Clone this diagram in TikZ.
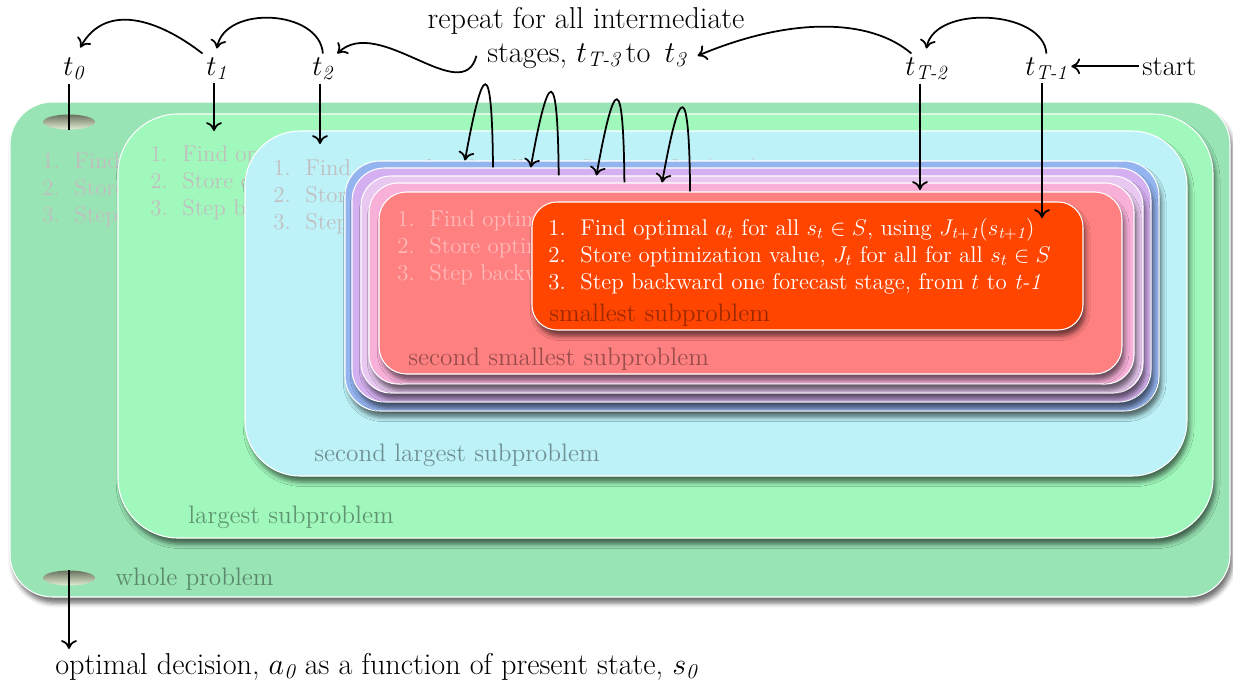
\RequirePackage{fix-cm}
\documentclass[tikz,border=0pt]{standalone}
\usepackage{amsmath}
\usepackage{fontspec}
\usetikzlibrary{shapes.geometric, arrows.meta, fit, shadows, shadows.blur}

\definecolor{wholegreen}{RGB}{152,228,180}
\definecolor{largegreen}{RGB}{160,248,188}
\definecolor{secondcyan}{RGB}{188,242,248}
\definecolor{stackblue}{RGB}{148,180,240}
\definecolor{stackpurple}{RGB}{212,176,240}
\definecolor{stacklilac}{RGB}{232,200,240}
\definecolor{stackpink}{RGB}{248,176,216}
\definecolor{salmonred}{RGB}{255,128,128}
\definecolor{smallorange}{RGB}{255,69,0}
\definecolor{listgray}{RGB}{194,190,192}
\definecolor{holedark}{RGB}{105,115,95}
\definecolor{holelight}{RGB}{228,238,214}

\tikzstyle{probbox} = [
    rectangle,
    inner sep=0pt,
    draw=white,
    line width=0.6pt,
    blur shadow={shadow xshift=1.5pt, shadow yshift=-3.5pt,
        shadow blur radius=2.5pt, shadow opacity=55}
]
\tikzstyle{hole} = [
    ellipse,
    minimum width=1.04cm,
    minimum height=0.3cm,
    inner sep=0pt,
    top color=holedark,
    bottom color=holelight
]
\tikzstyle{stage} = [
    font=\fontsize{16.3}{19.5}\selectfont,
    inner sep=2pt,
    anchor=base west
]
\tikzstyle{note} = [
    font=\fontsize{17.2}{20.5}\selectfont,
    inner sep=2pt,
    anchor=base
]
\tikzstyle{steps} = [
    font=\fontsize{13}{15.6}\selectfont,
    inner sep=0pt,
    anchor=base west
]
\tikzstyle{boxlabel} = [
    font=\fontsize{14.4}{17}\selectfont,
    text opacity=0.4,
    inner sep=0pt,
    anchor=base west
]
\tikzstyle{arrow} = [line width=1pt, ->, >={To[length=5pt, width=9pt]}]

\newcommand{\dpsteps}{%
\begin{tabular}[t]{@{}l@{}}
\makebox[1.4em][l]{1.}Find optimal $a_t$ for all $s_t \in S$, using $J_{\mathit{t+1}}(s_{\mathit{t+1}})$\\
\makebox[1.4em][l]{2.}Store optimization value, $J_t$ for all for all $s_t \in S$\\
\makebox[1.4em][l]{3.}Step backward one forecast stage, from $t$ to \textit{t-1}
\end{tabular}}

\begin{document}
\begin{tikzpicture}[x=0.02cm, y=-0.02cm]

\useasboundingbox (0,0) rectangle (1233,687);

% whole problem
\node (wholebox) [probbox, fill=wholegreen, rounded corners=0.85cm,
    fit={(10,102) (1230,597)}] {};
\node (wholesteps) [steps, text=listgray] at (42,168) {\dpsteps};
\node (wholelabel) [boxlabel] at (115,585) {whole problem};
\node (hole1) [hole] at (69,122) {};
\node (hole2) [hole] at (69,578) {};

% largest subproblem
\node (largebox) [probbox, fill=largegreen, rounded corners=1.2cm,
    fit={(118,114) (1213,538)}] {};
\node (largesteps) [steps, text=listgray] at (150,161) {\dpsteps};
\node (largelabel) [boxlabel] at (188,523) {largest subproblem};

% second largest subproblem
\node (secondlargebox) [probbox, fill=secondcyan, rounded corners=1.1cm,
    fit={(245,131) (1187,476)}] {};
\node (secondlargesteps) [steps, text=listgray] at (273,175) {\dpsteps};
\node (secondlargelabel) [boxlabel] at (314,461) {second largest subproblem};

% intermediate stages
\node (bluebox) [probbox, fill=stackblue, rounded corners=0.7cm,
    fit={(345,161) (1159,411)}] {};
\node (purplebox) [probbox, fill=stackpurple, rounded corners=0.65cm,
    fit={(352,168) (1151,402)}] {};
\node (lilacbox) [probbox, fill=stacklilac, rounded corners=0.6cm,
    fit={(361,176) (1143,393)}] {};
\node (pinkbox) [probbox, fill=stackpink, rounded corners=0.58cm,
    fit={(369,183) (1134,384)}] {};

% second smallest subproblem
\node (secondsmallbox) [probbox, fill=salmonred, rounded corners=0.55cm,
    fit={(379,192) (1122,374)}] {};
\node (secondsmallsteps) [steps, text=white, text opacity=0.45] at (397,226) {\dpsteps};
\node (secondsmalllabel) [boxlabel] at (408,365) {second smallest subproblem};

% smallest subproblem
\node (smallbox) [probbox, fill=smallorange, rounded corners=0.5cm,
    fit={(532,202) (1083,330)}] {};
\node (smallsteps) [steps, text=white] at (548,235) {\dpsteps};
\node (smalllabel) [boxlabel] at (549,321) {smallest subproblem};

% stages
\node (t0) [stage] at (59.5,75) {$t_{\textit{0}}$};
\node (t1) [stage] at (202.5,75) {$t_{\textit{1}}$};
\node (t2) [stage] at (308.5,75) {$t_{\textit{2}}$};
\node (tT2) [stage] at (901.5,75) {$t_{\textit{T-2}}$};
\node (tT1) [stage] at (1021.5,75) {$t_{\textit{T-1}}$};
\node (start) [stage] at (1138.5,75) {start};
\node (repeatnote) [note] at (586,28) {repeat for all intermediate};
\node (stagesnote) [note, inner sep=6pt] at (587,62)
    {stages, $t_{\textit{T-3}}$\,to\ \,$t_{\textit{3}}$};
\node (decision) [note, anchor=base west] at (51.5,674)
    {optimal decision, $a_{\textit{0}}$ as a function of present state, $s_{\textit{0}}$};

\coordinate (t1end) at (214,131);
\coordinate (t2end) at (320,144);
\coordinate (tT2end) at (920,190);
\coordinate (tT1end) at (1042,218);

% connectors
\draw [arrow] (start.west) -- (tT1.east |- start.west);
\draw [arrow] (tT1.north) .. controls +(-3,-44) and +(8,-44) .. ([yshift=0.1cm]tT2.north);
\draw [arrow] ([xshift=-0.3cm]tT2.north) .. controls +(-40,-34.5) and +(95,-40) .. (stagesnote.east);
\draw [arrow] (stagesnote.west) .. controls +(-14,53) and +(41.5,-39.5) .. (t2.north east);
\draw [arrow] (t2.north) .. controls +(-3,-44) and +(8,-44) .. ([yshift=0.1cm]t1.north);
\draw [arrow] (t1.north west) .. controls +(-45,-35) and +(25,-45) .. ([shift={(-0.16cm,0.12cm)}]t0.north east);

\draw [line width=1pt] (t0.south -| hole1) -- (hole1.south);
\draw [arrow] (t1.south -| t1end) -- (t1end);
\draw [arrow] (t2.south -| t2end) -- (t2end);
\draw [arrow] (tT2.south -| tT2end) -- (tT2end);
\draw [arrow] (tT1.south -| tT1end) -- (tT1end);
\draw [arrow] (hole2.north) -- (hole2 |- decision.north);

\foreach \i/\from/\into in {0/purplebox/bluebox, 1/lilacbox/purplebox,
    2/pinkbox/lilacbox, 3/secondsmallbox/pinkbox} {
    \pgfmathsetmacro{\hx}{493+65.7*\i}
    \pgfmathsetmacro{\tx}{465+65.7*\i}
    \draw [arrow] (\hx,0 |- \from.north) .. controls +(-1,-112) and +(18,-100) .. (\tx,0 |- \into.north);
}

\end{tikzpicture}
\end{document}
